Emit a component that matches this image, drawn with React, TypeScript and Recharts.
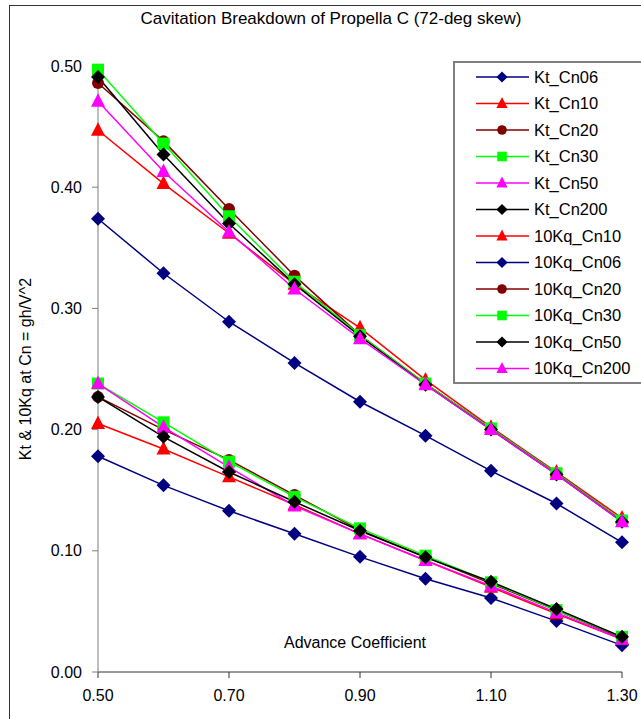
import React from 'react';
import { LineChart, Line, XAxis, YAxis, Legend } from 'recharts';

const J = [0.5, 0.6, 0.7, 0.8, 0.9, 1.0, 1.1, 1.2, 1.3];
const X_TICKS = [0.5, 0.7, 0.9, 1.1, 1.3];
const Y_TICKS = [0, 0.1, 0.2, 0.3, 0.4, 0.5];

const KT_CN06 = [0.178, 0.154, 0.133, 0.114, 0.095, 0.077, 0.061, 0.042, 0.022];
const KT_CN10 = [0.205, 0.184, 0.161, 0.138, 0.114, 0.092, 0.070, 0.048, 0.027];
const KT_CN20 = [0.227, 0.200, 0.175, 0.146, 0.117, 0.095, 0.073, 0.051, 0.028];
const KT_CN30 = [0.238, 0.206, 0.1735, 0.1445, 0.1185, 0.096, 0.074, 0.051, 0.029];
const KT_CN50 = [0.238, 0.202, 0.169, 0.137, 0.114, 0.092, 0.071, 0.049, 0.027];
const KT_CN200 = [0.227, 0.194, 0.165, 0.1405, 0.1165, 0.0946, 0.0745, 0.052, 0.029];

const KQ_CN10 = [0.447, 0.403, 0.362, 0.320, 0.284, 0.241, 0.202, 0.165, 0.127];
const KQ_CN06 = [0.374, 0.329, 0.289, 0.255, 0.223, 0.195, 0.166, 0.139, 0.107];
const KQ_CN20 = [0.486, 0.438, 0.382, 0.327, 0.278, 0.238, 0.201, 0.164, 0.125];
const KQ_CN30 = [0.497, 0.436, 0.376, 0.322, 0.278, 0.238, 0.201, 0.164, 0.125];
const KQ_CN50 = [0.491, 0.427, 0.370, 0.320, 0.277, 0.237, 0.200, 0.163, 0.124];
const KQ_CN200 = [0.471, 0.413, 0.363, 0.316, 0.275, 0.237, 0.200, 0.163, 0.124];

const NAVY = '#000080';
const RED = '#FF0000';
const BROWN = '#800000';
const GREEN = '#00FF00';
const MAGENTA = '#FF00FF';
const BLACK = '#000000';

type Shape = 'diamond' | 'triangle' | 'circle' | 'square';

const SERIES: { key: string; name: string; color: string; shape: Shape; values: number[] }[] = [
  { key: 'kt06', name: 'Kt_Cn06', color: NAVY, shape: 'diamond', values: KT_CN06 },
  { key: 'kt10', name: 'Kt_Cn10', color: RED, shape: 'triangle', values: KT_CN10 },
  { key: 'kt20', name: 'Kt_Cn20', color: BROWN, shape: 'circle', values: KT_CN20 },
  { key: 'kt30', name: 'Kt_Cn30', color: GREEN, shape: 'square', values: KT_CN30 },
  { key: 'kt50', name: 'Kt_Cn50', color: MAGENTA, shape: 'triangle', values: KT_CN50 },
  { key: 'kt200', name: 'Kt_Cn200', color: BLACK, shape: 'diamond', values: KT_CN200 },
  { key: 'kq10', name: '10Kq_Cn10', color: RED, shape: 'triangle', values: KQ_CN10 },
  { key: 'kq06', name: '10Kq_Cn06', color: NAVY, shape: 'diamond', values: KQ_CN06 },
  { key: 'kq20', name: '10Kq_Cn20', color: BROWN, shape: 'circle', values: KQ_CN20 },
  { key: 'kq30', name: '10Kq_Cn30', color: GREEN, shape: 'square', values: KQ_CN30 },
  { key: 'kq50', name: '10Kq_Cn50', color: BLACK, shape: 'diamond', values: KQ_CN50 },
  { key: 'kq200', name: '10Kq_Cn200', color: MAGENTA, shape: 'triangle', values: KQ_CN200 },
];

const DATA = J.map((j, i) => {
  const row: Record<string, number> = { j };
  SERIES.forEach((s) => {
    row[s.key] = s.values[i];
  });
  return row;
});

const FONT = '"Liberation Sans", Arial, sans-serif';

function marker(shape: Shape, color: string, cx: number, cy: number, k: number, key?: string) {
  switch (shape) {
    case 'diamond':
      return (
        <polygon key={key} points={`${cx},${cy - 7 * k} ${cx + 7 * k},${cy} ${cx},${cy + 7 * k} ${cx - 7 * k},${cy}`} fill={color} />
      );
    case 'triangle':
      return (
        <polygon key={key} points={`${cx},${cy - 8 * k} ${cx + 7 * k},${cy + 5.5 * k} ${cx - 7 * k},${cy + 5.5 * k}`} fill={color} />
      );
    case 'circle':
      return <circle key={key} cx={cx} cy={cy} r={6 * k} fill={color} />;
    default:
      return <rect key={key} x={cx - 6 * k} y={cy - 6 * k} width={12 * k} height={12 * k} fill={color} />;
  }
}

const makeDot = (shape: Shape, color: string) => (props: any) => {
  const { cx, cy, index } = props;
  if (cx == null || cy == null) return <g key={`d-${index}`} />;
  return marker(shape, color, cx, cy, 1, `d-${index}`);
};

const renderLegend = () => (
  <div
    style={{
      borderTop: '2px solid #7f7f7f',
      borderLeft: '2px solid #7f7f7f',
      borderBottom: '2px solid #7f7f7f',
      background: '#fff',
      width: 200,
      height: 323,
      boxSizing: 'border-box',
    }}
  >
    <svg width={200} height={319} style={{ display: 'block' }}>
      {SERIES.map((s, i) => {
        const y = 14 + i * 26.5;
        return (
          <g key={s.key}>
            <line x1={21} x2={74} y1={y} y2={y} stroke={s.color} strokeWidth={1.5} />
            {marker(s.shape, s.color, 47, y, 0.8)}
            <text x={79} y={y} dy="0.35em" fontSize={16.5} fontFamily={FONT} fill="#000">
              {s.name}
            </text>
          </g>
        );
      })}
    </svg>
  </div>
);

const YLabel = (props: any) => {
  const vb = props.viewBox || {};
  const x = (vb.x ?? 0) + 16;
  const y = (vb.y ?? 0) + (vb.height ?? 0) / 2;
  return (
    <text
      x={x}
      y={y}
      transform={`rotate(-90, ${x}, ${y})`}
      textAnchor="middle"
      dominantBaseline="central"
      fontSize={16}
      fontFamily={FONT}
      fill="#000"
    >
      Kt &amp; 10Kq at Cn = gh/V^2
    </text>
  );
};

const XLabel = (props: any) => {
  const vb = props.viewBox || {};
  const x = (vb.x ?? 0) + (vb.width ?? 0) / 2 - 5;
  const y = (vb.y ?? 0) - 30;
  return (
    <text x={x} y={y} textAnchor="middle" dominantBaseline="central" fontSize={16} fontFamily={FONT} fill="#000">
      Advance Coefficient
    </text>
  );
};

export default function App() {
  return (
    <div
      style={{
        position: 'absolute',
        left: 9,
        top: 5,
        width: 632,
        height: 714,
        overflow: 'hidden',
        background: '#fff',
        fontFamily: FONT,
      }}
    >
      <div
        style={{
          position: 'absolute',
          left: 0,
          top: 0,
          width: 632,
          height: 714,
          borderTop: '1.5px solid #333',
          borderLeft: '1.5px solid #333',
          boxSizing: 'border-box',
          pointerEvents: 'none',
          zIndex: 2,
        }}
      />
      <div
        style={{
          position: 'absolute',
          top: 4,
          left: 122,
          width: 400,
          textAlign: 'center',
          fontSize: 17,
          lineHeight: '20px',
          color: '#000',
          zIndex: 3,
        }}
      >
        Cavitation Breakdown of Propella C (72-deg skew)
      </div>
      <LineChart width={632} height={714} data={DATA} margin={{ top: 61, right: 19, bottom: 0, left: 0 }}>
        <XAxis
          dataKey="j"
          type="number"
          domain={[0.5, 1.3]}
          ticks={X_TICKS}
          tickFormatter={(v: number) => v.toFixed(2)}
          height={47}
          stroke="#333"
          tickSize={6}
          tickMargin={12}
          tick={{ fontSize: 16, fontFamily: FONT, fill: '#000' }}
          label={<XLabel />}
        />
        <YAxis
          type="number"
          domain={[0, 0.5]}
          ticks={Y_TICKS}
          tickFormatter={(v: number) => v.toFixed(2)}
          width={89}
          stroke="#7f7f7f"
          tickSize={6}
          tickMargin={10}
          tick={{ fontSize: 16, fontFamily: FONT, fill: '#000' }}
          label={<YLabel />}
        />
        <Legend
          layout="vertical"
          align="center"
          verticalAlign="middle"
          content={renderLegend}
          wrapperStyle={{ position: 'absolute', left: 444, top: 56, width: 200, height: 323, margin: 0 }}
        />
        {SERIES.map((s) => (
          <Line
            key={s.key}
            dataKey={s.key}
            name={s.name}
            stroke={s.color}
            strokeWidth={1.5}
            dot={makeDot(s.shape, s.color)}
            activeDot={false}
            isAnimationActive={false}
          />
        ))}
      </LineChart>
    </div>
  );
}
